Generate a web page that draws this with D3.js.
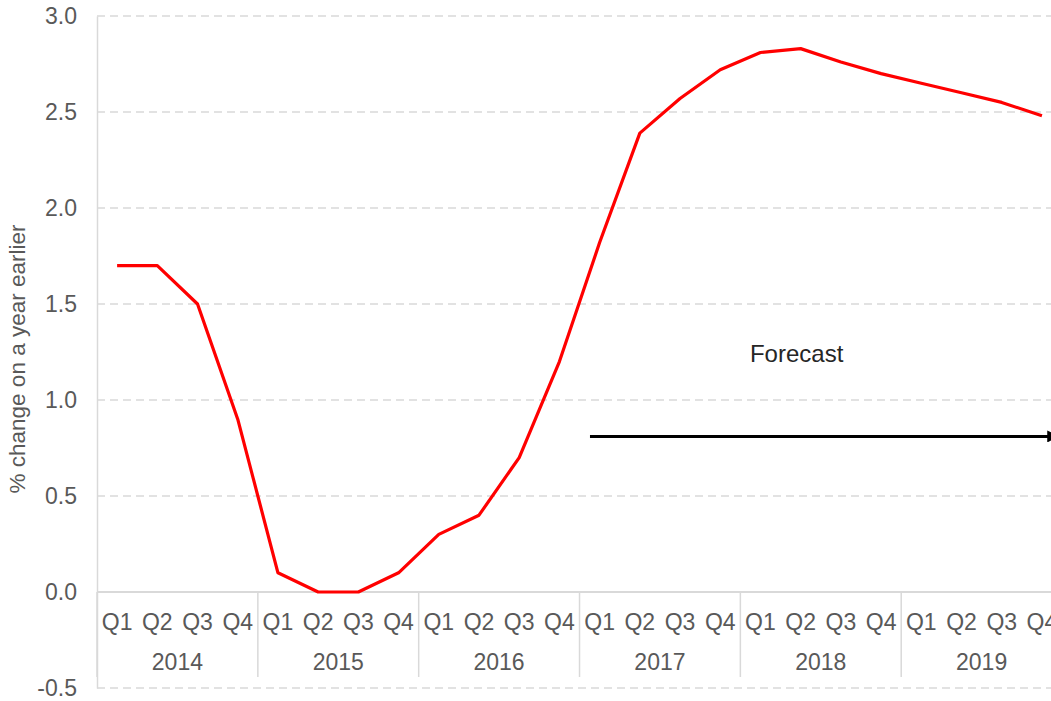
<!DOCTYPE html>
<html>
<head>
<meta charset="utf-8">
<script src="https://cdn.jsdelivr.net/npm/d3@7"></script>
<style>
  body { margin: 0; background: #fff; }
  svg { display: block; font-family: "Liberation Sans", Arial, sans-serif; }
</style>
</head>
<body>
<svg id="chart" width="1051" height="701"></svg>
<script>
// chart data
var years    = ["2014", "2015", "2016", "2017", "2018", "2019"];
var quarters = ["Q1", "Q2", "Q3", "Q4"];
var values   = [1.7, 1.7, 1.5, 0.9,
                0.1, 0.0, 0.0, 0.1,
                0.3, 0.4, 0.7, 1.2,
                1.82, 2.39, 2.57, 2.72,
                2.81, 2.83, 2.76, 2.7,
                2.65, 2.6, 2.55, 2.48];
var yTicks   = [-0.5, 0, 0.5, 1, 1.5, 2, 2.5, 3];
var forecast = {label: "Forecast", from: 12.26, to: 23.9, level: 0.81, labelLevel: 1.2, labelAt: 17.4};

(function(){
var svg = d3.select('#chart');
var plotLeft = 97, plotTop = 16, plotBottom = 688;
var nq = years.length * quarters.length;

var xi = d3.scaleLinear().domain([0, nq]).range([plotLeft, plotLeft + nq * 40.21]);
var y  = d3.scaleLinear().domain([-0.5, 3]).range([plotBottom, plotTop]);

var grey = "#d9d9d9";
var fs = "23px";

// dashed gridlines
svg.append("g")
  .selectAll("line")
  .data(yTicks.filter(function(d){ return d != 0; }))
  .enter().append("line")
    .attr("x1", plotLeft).attr("x2", 1051)
    .attr("y1", function(d){ return y(d); })
    .attr("y2", function(d){ return y(d); })
    .attr("stroke", grey)
    .attr("stroke-width", 1.3)
    .attr("stroke-dasharray", "8,5");

// y axis (plain hyphen for negatives, as in the original)
var yAxis = d3.axisLeft(y).tickValues(yTicks).tickSize(0).tickPadding(20)
  .tickFormat(function(d){ return d.toFixed(1); });
var gy = svg.append("g").attr("transform", "translate(" + plotLeft + ",0)").call(yAxis);
gy.select(".domain").attr("stroke", grey).attr("stroke-width", 1.5);
gy.selectAll("text").attr("fill", "#595959").style("font-size", fs)
  .style("font-family", "Liberation Sans, Arial, sans-serif");

// zero axis
svg.append("line")
  .attr("x1", plotLeft).attr("x2", 1051)
  .attr("y1", y(0)).attr("y2", y(0))
  .attr("stroke", grey).attr("stroke-width", 2);

// year separators
svg.append("g").selectAll("line")
  .data(d3.range(years.length + 1))
  .enter().append("line")
    .attr("x1", function(d){ return xi(d * 4); })
    .attr("x2", function(d){ return xi(d * 4); })
    .attr("y1", y(0)).attr("y2", y(0) + 85)
    .attr("stroke", grey).attr("stroke-width", 1.5);

// quarter labels
var qData = d3.range(nq);
svg.append("g").selectAll("text")
  .data(qData)
  .enter().append("text")
    .attr("x", function(i){ return xi(i + 0.5); })
    .attr("y", y(0) + 38)
    .attr("text-anchor", "middle")
    .attr("fill", "#595959")
    .style("font-size", fs)
    .text(function(i){ return quarters[i % 4]; });

// year labels
svg.append("g").selectAll("text")
  .data(years)
  .enter().append("text")
    .attr("x", function(d, i){ return xi(i * 4 + 2); })
    .attr("y", y(0) + 78)
    .attr("text-anchor", "middle")
    .attr("fill", "#595959")
    .style("font-size", fs)
    .text(function(d){ return d; });

// y axis title
svg.append("text")
  .attr("transform", "translate(25," + ((plotTop + plotBottom) / 2 + 7) + ") rotate(-90)")
  .attr("text-anchor", "middle")
  .attr("fill", "#595959")
  .style("font-size", "22.5px")
  .text("% change on a year earlier");

// the line
var line = d3.line()
  .x(function(d, i){ return xi(i + 0.5); })
  .y(function(d){ return y(d); });

svg.append("path")
  .datum(values)
  .attr("d", line)
  .attr("fill", "none")
  .attr("stroke", "#ff0000")
  .attr("stroke-width", 3.2)
  .attr("stroke-linejoin", "round");

// forecast arrow
svg.append("defs").append("marker")
  .attr("id", "arrow")
  .attr("viewBox", "0 0 10 10")
  .attr("refX", 9).attr("refY", 5)
  .attr("markerWidth", 4).attr("markerHeight", 4)
  .attr("orient", "auto")
  .append("path").attr("d", "M0,0L10,5L0,10Z").attr("fill", "#000");

svg.append("line")
  .attr("x1", xi(forecast.from)).attr("x2", xi(forecast.to))
  .attr("y1", y(forecast.level)).attr("y2", y(forecast.level))
  .attr("stroke", "#000").attr("stroke-width", 3)
  .attr("marker-end", "url(#arrow)");

svg.append("text")
  .attr("x", xi(forecast.labelAt))
  .attr("y", y(forecast.labelLevel))
  .attr("text-anchor", "middle")
  .attr("fill", "#262626")
  .style("font-size", "24px")
  .text(forecast.label);
})();
</script>
</body>
</html>
